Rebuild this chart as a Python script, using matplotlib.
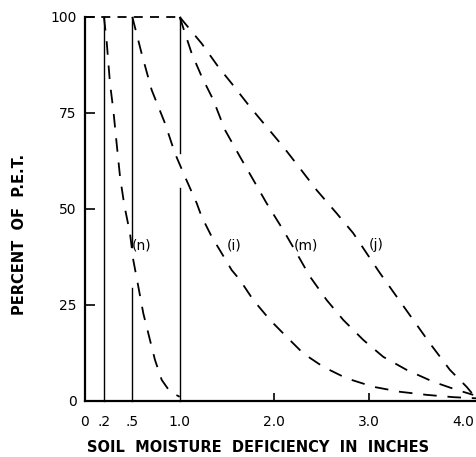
import matplotlib
matplotlib.use("Agg")
import matplotlib.pyplot as plt

W, H = 477, 457
# Curve data (x: soil moisture deficiency in inches, y: percent of P.E.T.)
n_x = [0.2, 0.229, 0.264, 0.299, 0.334, 0.37, 0.415, 0.475, 0.51, 0.563, 0.616, 0.686,
       0.739, 0.81, 0.898, 1.0]
n_y = [100, 93.6, 82.7, 75.8, 67.1, 58.4, 51.0, 43.7, 36.7, 29.8, 22.8, 15.9,
       10.7, 5.5, 2.4, 1.1]

i_x = [0.5, 0.598, 0.704, 0.845, 0.95, 1.056, 1.18, 1.232, 1.338, 1.443, 1.549, 1.637,
       1.777, 1.954, 2.13, 2.305, 2.516, 2.763, 3.045, 3.326, 3.608, 3.89, 4.136]
i_y = [100, 90.5, 81.0, 72.3, 64.5, 58.4, 51.5, 48.0, 42.8, 38.5, 34.1, 31.5,
       26.3, 21.1, 16.7, 12.4, 8.9, 5.9, 3.7, 2.4, 1.6, 1.0, 0.7]

m_x = [1.0, 1.127, 1.232, 1.355, 1.478, 1.637, 1.777, 1.918, 2.094, 2.235, 2.376, 2.552,
       2.728, 2.939, 3.15, 3.397, 3.678, 3.925, 4.1]
m_y = [100, 90.5, 84.5, 78.4, 70.6, 63.6, 57.6, 51.5, 44.5, 38.5, 32.4, 26.3,
       21.1, 15.9, 11.5, 8.1, 5.0, 2.9, 1.6]

j_x = [1.0, 1.232, 1.408, 1.549, 1.742, 1.918, 2.094, 2.27, 2.447, 2.657, 2.833, 2.974,
       3.115, 3.291, 3.467, 3.643, 3.854, 4.03, 4.118]
j_y = [100, 93.1, 87.0, 82.7, 76.6, 71.4, 66.2, 60.6, 54.9, 48.9, 43.7, 38.5,
       33.3, 27.2, 21.1, 15.0, 8.1, 3.7, 1.1]

# solid vertical guide lines (with the small print gaps seen in the reference)
vline_x = [0.2, 0.5, 0.5, 1.0, 1.0]
vline_lo = [0, 0, 40.2, 0, 64.6]
vline_hi = [100, 29.4, 100, 55.5, 100]

top_x = [0.0, 1.0]
top_y = [100, 100]

labels = ["(n)", "(i)", "(m)", "(j)"]
label_x = [0.60, 1.58, 2.33, 3.08]
label_y = [40.6, 40.6, 40.6, 40.6]

yticks = [0, 25, 50, 75, 100]
ytick_labels = ["0", "25", "50", "75", "100"]
xticks = [0, 0.2, 0.5, 1.0, 2.0, 3.0, 4.0]
xtick_labels = ["0", ".2", ".5", "1.0", "2.0", "3.0", "4.0"]

fig = plt.figure(figsize=(W / 100, H / 100), dpi=100)
ax = fig.add_axes([85 / W, 56 / H, (W - 85) / W, (401 - 17) / H])
ax.set_xlim(0, 4.14)
ax.set_ylim(0, 100)

dash = (0, (7.5, 6))
lw = 1.3
for xs, ys in [(n_x, n_y), (i_x, i_y), (m_x, m_y), (j_x, j_y)]:
    ax.plot(xs, ys, color="black", lw=lw, linestyle=dash, clip_on=False,
            solid_joinstyle="round", dash_joinstyle="round")
ax.plot(top_x, top_y, color="black", lw=lw, linestyle=(0, (5, 4)), clip_on=False)

for xv, lo, hi in zip(vline_x, vline_lo, vline_hi):
    ax.plot([xv, xv], [lo, hi], color="black", lw=1.0, clip_on=False)

for t, x, y in zip(labels, label_x, label_y):
    ax.text(x, y, t, ha="center", va="center", fontsize=10)

for s in ["top", "right"]:
    ax.spines[s].set_visible(False)
ax.spines["left"].set_linewidth(1.6)
ax.spines["bottom"].set_linewidth(1.6)

ax.set_yticks(yticks)
ax.set_yticklabels(ytick_labels, fontsize=10)
ax.set_xticks(xticks)
ax.set_xticklabels(xtick_labels, fontsize=10)
ax.tick_params(axis="y", direction="in", length=7, width=1.2, pad=6)
ax.tick_params(axis="x", direction="in", length=6, width=1.2, pad=10)
# hide x tick marks that coincide with vertical lines / axis
for tk, xv in zip(ax.xaxis.get_major_ticks(), xticks):
    if xv in (0, 0.2, 0.5, 1.0, 4.0):
        tk.tick1line.set_visible(False)
ax.yaxis.get_major_ticks()[0].tick1line.set_visible(False)

fig.text(20 / W, 1 - 234 / H, "PERCENT  OF  P.E.T.", rotation=90, ha="center", va="center",
         fontsize=10.5, fontweight="bold")
fig.text(258 / W, 1 - 448 / H, "SOIL  MOISTURE  DEFICIENCY  IN  INCHES", ha="center", va="center",
         fontsize=10.5, fontweight="bold")

fig.savefig("out.png", dpi=100)
